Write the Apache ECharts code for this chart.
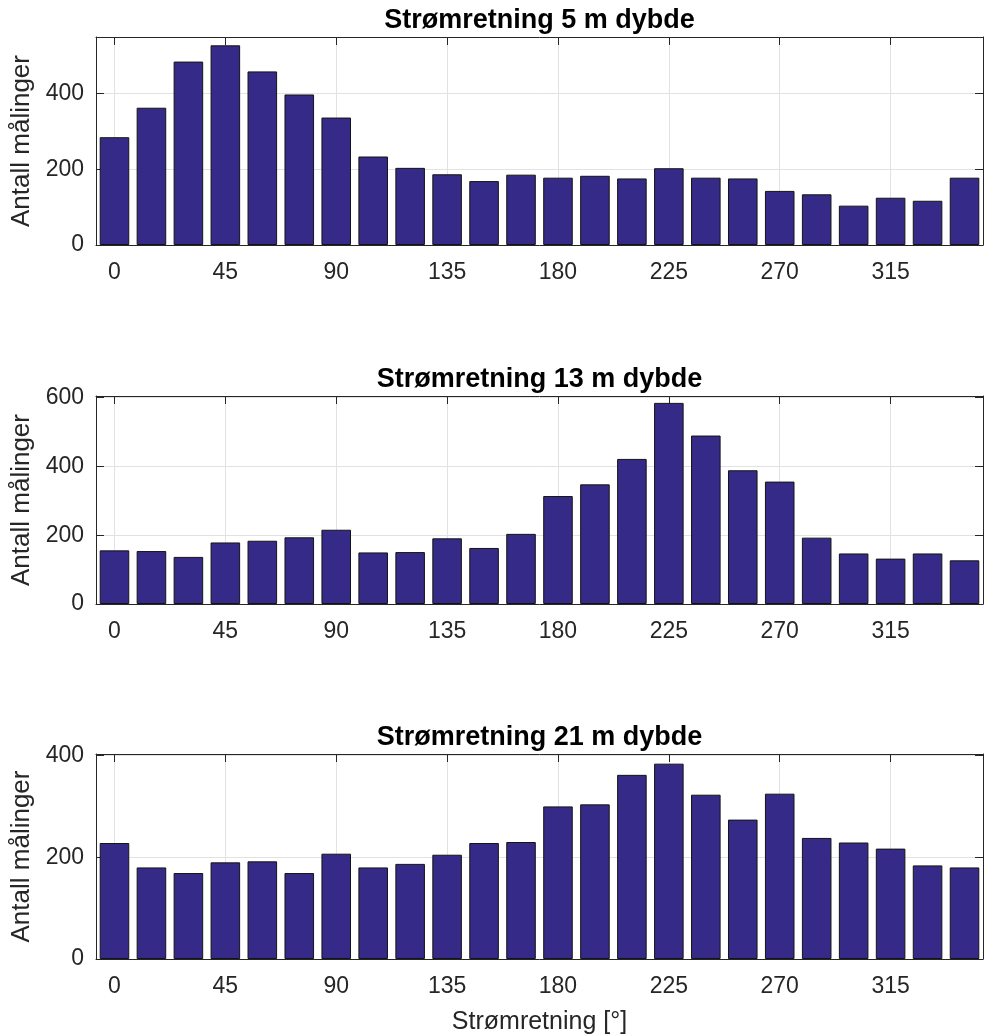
<!DOCTYPE html>
<html>
<head>
<meta charset="utf-8">
<script src="https://cdn.jsdelivr.net/npm/echarts@6/dist/echarts.min.js"></script>
<style>
html,body{margin:0;padding:0;background:#fff;}
#chart{width:993px;height:1036px;}
</style>
</head>
<body>
<div id="chart"></div>
<script>
// ---- data ----
const directions = [0,15,30,45,60,75,90,105,120,135,150,165,180,195,210,225,240,255,270,285,300,315,330,345];
const depth5  = [285,363,485,528,459,398,337,234,204,187,169,186,178,183,176,203,178,176,143,134,104,125,117,178];
const depth13 = [156,154,137,179,184,194,216,150,151,191,163,204,314,348,422,585,490,389,356,193,147,132,147,127];
const depth21 = [228,180,169,190,192,169,207,180,187,205,228,230,300,304,362,384,323,274,325,238,229,217,184,180];
const xTickLabels = [0,45,90,135,180,225,270,315];
const yTicks5  = [0,200,400];
const yTicks13 = [0,200,400,600];
const yTicks21 = [0,200,400];
const yMax = [550,605,403];
const titles = ['Strømretning 5 m dybde','Strømretning 13 m dybde','Strømretning 21 m dybde'];
const yLabel = 'Antall målinger';
const xLabel = 'Strømretning [°]';

// ---- layout ----
const FONT = "'Liberation Sans', Arial, Helvetica, sans-serif";
const AX = '#262626';
const GRIDC = '#e2e2e2';
const gridTops = [37, 396, 754];
const gridH = 208;
const gridLeft = 96, gridRight = 10;
const centerX = gridLeft + (993 - gridLeft - gridRight)/2;

const seriesVals = [depth5, depth13, depth21];
const yTickSets = [yTicks5, yTicks13, yTicks21];

const grids = [], xAxes = [], yAxes = [], series = [], titleOpts = [];
for (let i = 0; i < 3; i++) {
  grids.push({left: gridLeft, right: gridRight, top: gridTops[i], height: gridH, containLabel: false});
  xAxes.push({
    type: 'value', gridIndex: i, min: -7.5, max: 352.5, position: 'bottom',
    axisLine: {show: true, onZero: false, lineStyle: {color: AX, width: 1}},
    axisTick: {show: true, inside: true, length: 8, customValues: xTickLabels, lineStyle: {color: AX}},
    axisLabel: {show: true, customValues: xTickLabels, color: AX, fontSize: 23, fontFamily: FONT, margin: 16},
    splitLine: {show: true, lineStyle: {color: GRIDC, width: 1}},
    name: i === 2 ? xLabel : '', nameLocation: 'middle', nameGap: 51,
    nameTextStyle: {color: AX, fontSize: 25, fontFamily: FONT}
  });
  xAxes.push({
    type: 'value', gridIndex: i, min: -7.5, max: 352.5, position: 'top',
    axisLine: {show: true, onZero: false, lineStyle: {color: AX, width: 1}},
    axisTick: {show: true, inside: true, length: 8, customValues: xTickLabels, lineStyle: {color: AX}},
    axisLabel: {show: false},
    splitLine: {show: false}
  });
  yAxes.push({
    type: 'value', gridIndex: i, min: 0, max: yMax[i], position: 'left',
    axisLine: {show: true, onZero: false, lineStyle: {color: AX, width: 1}},
    axisTick: {show: true, inside: true, length: 8, customValues: yTickSets[i], lineStyle: {color: AX}},
    axisLabel: {show: true, customValues: yTickSets[i], color: AX, fontSize: 23, fontFamily: FONT, margin: 12},
    splitLine: {show: true, lineStyle: {color: GRIDC, width: 1}},
    name: yLabel, nameLocation: 'middle', nameGap: 59, nameRotate: 90,
    nameTextStyle: {color: AX, fontSize: 26, fontFamily: FONT}
  });
  yAxes.push({
    type: 'value', gridIndex: i, min: 0, max: yMax[i], position: 'right',
    axisLine: {show: true, onZero: false, lineStyle: {color: AX, width: 1}},
    axisTick: {show: true, inside: true, length: 8, customValues: yTickSets[i], lineStyle: {color: AX}},
    axisLabel: {show: false},
    splitLine: {show: false}
  });
  series.push({
    type: 'bar', xAxisIndex: 2*i, yAxisIndex: 2*i,
    data: directions.map((d, k) => [d, seriesVals[i][k]]),
    barCategoryGap: '20%',
    itemStyle: {color: '#352A87', borderColor: '#141414', borderWidth: 1},
    emphasis: {disabled: true},
    z: 2
  });
  titleOpts.push({
    text: titles[i], left: centerX, top: gridTops[i] - 30, textAlign: 'center', padding: 0,
    textStyle: {color: '#000', fontSize: 27, fontWeight: 'bold', fontFamily: FONT}
  });
}

const chart = echarts.init(document.getElementById('chart'), null, {renderer: 'canvas'});
chart.setOption({
  animation: false,
  backgroundColor: '#fff',
  title: titleOpts,
  grid: grids,
  xAxis: xAxes,
  yAxis: yAxes,
  series: series
});
</script>
</body>
</html>
